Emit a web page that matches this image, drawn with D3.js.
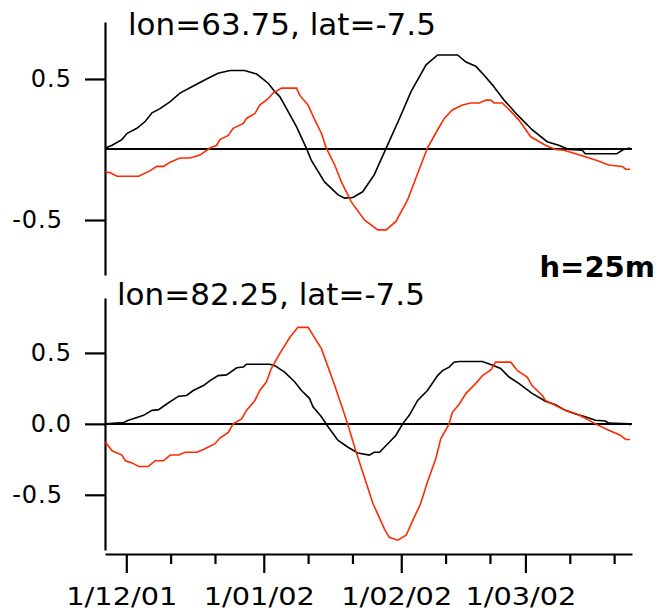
<!DOCTYPE html>
<html>
<head>
<meta charset="utf-8">
<script src="https://cdn.jsdelivr.net/npm/d3@7"></script>
<style>
  body { margin: 0; background: #fff; }
  text { font-family: "DejaVu Sans", sans-serif; fill: #000; }
</style>
</head>
<body>
<div id="chart"></div>
<script>
// days are counted from 1 Dec 2001
const topBlackDays = [-4.7,-3.2,-1.0,0.2,2.4,4.3,5.8,7.6,9.9,12.1,14.8,18.1,20.7,23.4,26.7,29.4,32.0,33.5,34.6,35.7,38.4,40.6,41.7,44.7,47.7,49.2,51.1,53.3,55.9,58.6,61.6,64.2,67.6,70.2,74.7,76.6,78.8,80.3,82.5,85.2,88.2,91.5,94.9,97.5,99.8,102.8,103.5,110.6,112.1,113.6];
const topBlackVals = [0.01,0.03,0.07,0.115,0.15,0.2,0.26,0.29,0.34,0.40,0.445,0.50,0.54,0.56,0.56,0.535,0.47,0.41,0.375,0.315,0.16,0.01,-0.075,-0.23,-0.32,-0.345,-0.34,-0.30,-0.18,0.01,0.22,0.41,0.60,0.67,0.67,0.62,0.59,0.54,0.46,0.35,0.245,0.14,0.055,0.03,0.0,-0.005,-0.03,-0.03,0.0,0.01];

const topRedDays = [-4.7,-3.6,-2.1,2.8,5.4,6.9,8.4,9.9,12.1,14.4,16.6,18.9,20.4,21.1,23.0,24.1,26.4,27.1,29.0,30.1,32.0,33.1,35.0,38.4,39.1,41.0,42.5,44.0,45.1,47.0,48.5,50.7,53.7,56.7,58.6,60.8,63.4,65.7,67.9,70.2,71.7,73.5,75.8,77.7,79.6,81.1,82.2,82.9,84.8,86.7,88.5,91.2,94.5,96.8,98.7,102.8,105.8,108.8,111.8,112.6,113.6];
const topRedVals = [-0.16,-0.165,-0.19,-0.19,-0.15,-0.12,-0.12,-0.09,-0.06,-0.06,-0.04,0.01,0.03,0.07,0.10,0.15,0.185,0.22,0.255,0.315,0.36,0.40,0.435,0.435,0.385,0.315,0.21,0.115,0.01,-0.11,-0.23,-0.37,-0.50,-0.57,-0.57,-0.51,-0.36,-0.17,0.01,0.14,0.22,0.28,0.315,0.33,0.33,0.35,0.35,0.33,0.33,0.27,0.21,0.09,0.03,0.0,-0.005,-0.045,-0.075,-0.11,-0.12,-0.14,-0.14];

const botBlackDays = [-4.7,-0.6,0.5,2.4,3.9,5.8,7.3,9.1,11.8,13.6,15.1,17.4,18.9,20.7,22.6,24.9,26.4,27.1,32.4,33.5,35.7,38.0,39.5,41.3,42.1,44.0,45.5,47.7,50.0,52.2,54.8,55.9,57.1,59.3,60.8,62.3,63.8,65.7,67.9,70.2,71.3,72.8,73.9,75.1,80.3,82.5,84.4,86.3,88.5,91.5,94.5,96.8,99.0,101.3,103.5,105.8,108.0,108.8,113.3,113.6];
const botBlackVals = [0.0,0.01,0.025,0.045,0.06,0.095,0.10,0.14,0.195,0.20,0.235,0.27,0.305,0.34,0.345,0.395,0.40,0.42,0.42,0.41,0.365,0.295,0.235,0.18,0.12,0.05,-0.02,-0.115,-0.165,-0.205,-0.22,-0.20,-0.20,-0.13,-0.08,0.0,0.06,0.165,0.235,0.34,0.375,0.40,0.435,0.44,0.44,0.415,0.39,0.33,0.285,0.215,0.16,0.135,0.095,0.07,0.05,0.025,0.02,0.005,0.0,-0.01];

const botRedDays = [-4.7,-3.2,-1.0,-0.2,1.3,2.8,5.0,6.5,8.4,9.9,11.8,13.3,15.9,17.4,20.0,21.1,23.0,24.1,26.0,27.1,29.0,30.1,31.6,32.7,34.6,35.3,36.9,38.7,41.0,44.0,45.1,47.0,48.8,50.0,51.5,53.3,55.6,58.2,59.3,61.2,63.1,64.6,66.4,67.9,69.8,70.9,72.8,73.5,75.1,76.6,78.8,80.3,82.2,83.3,86.7,88.2,90.4,91.5,93.8,94.5,96.8,99.0,101.6,103.5,105.8,108.8,111.4,112.6,113.6];
const botRedVals = [-0.13,-0.19,-0.22,-0.26,-0.275,-0.30,-0.30,-0.26,-0.26,-0.22,-0.22,-0.20,-0.20,-0.18,-0.14,-0.10,-0.06,0.0,0.035,0.095,0.165,0.235,0.295,0.39,0.495,0.53,0.61,0.68,0.68,0.53,0.435,0.27,0.105,-0.01,-0.165,-0.34,-0.56,-0.74,-0.80,-0.82,-0.785,-0.68,-0.56,-0.41,-0.245,-0.105,0.0,0.08,0.14,0.215,0.285,0.34,0.38,0.435,0.435,0.375,0.33,0.27,0.20,0.165,0.13,0.095,0.07,0.04,0.0,-0.045,-0.08,-0.11,-0.11];

const panelTitles = ["lon=63.75, lat=-7.5", "lon=82.25, lat=-7.5"];
const topYTicks = [0.5, -0.5];
const botYTicks = [0.5, 0.0, -0.5];
const monthTicks = ["2001-12-01", "2002-01-01", "2002-02-01", "2002-03-01"];
const minorTicks = ["2001-12-11", "2001-12-21", "2002-01-11", "2002-01-21", "2002-02-11", "2002-02-21", "2002-03-11", "2002-03-21"];
const depthLabel = "h=25m";

const width = 656, height = 614;
const dayMs = 864e5;
const t0 = Date.UTC(2001, 11, 1);
const toDate = d => new Date(t0 + d * dayMs);

const svg = d3.select("#chart")
    .append("svg")
    .attr("width", width)
    .attr("height", height);

const x = d3.scaleUtc()
    .domain([toDate(-4.8), toDate(114.03)])
    .range([105, 632]);

const panels = [
    { title: panelTitles[0], tx: 128, ty: 35, range: [275, 22], domain: [-0.89, 0.904], ticks: topYTicks,
      black: topBlackDays.map((d, i) => [d, topBlackVals[i]]), red: topRedDays.map((d, i) => [d, topRedVals[i]]) },
    { title: panelTitles[1], tx: 117, ty: 305, range: [550, 298], domain: [-0.889, 0.887], ticks: botYTicks,
      black: botBlackDays.map((d, i) => [d, botBlackVals[i]]), red: botRedDays.map((d, i) => [d, botRedVals[i]]) }
];

panels.forEach(p => {
    const y = d3.scaleLinear().domain(p.domain).range(p.range);

    const yAxis = svg.append("g")
        .attr("transform", "translate(105,0)")
        .call(d3.axisLeft(y).tickValues(p.ticks).tickSize(20).tickSizeOuter(0).tickPadding(13)
            .tickFormat(d => d.toFixed(1)));
    yAxis.select(".domain").attr("stroke-width", 2.2);
    yAxis.selectAll(".tick line").attr("stroke-width", 2.2);
    yAxis.selectAll(".tick text")
        .style("font-size", "24px")
        .attr("letter-spacing", "1px")
        .attr("dx", d => d < 0 ? -9 : 0);

    // zero line
    const y0 = Math.round(y(0));
    svg.append("line")
        .attr("x1", x.range()[0]).attr("x2", x.range()[1])
        .attr("y1", y0).attr("y2", y0)
        .attr("stroke", "#000").attr("stroke-width", 2.2);

    const line = d3.line()
        .x(d => x(toDate(d[0])))
        .y(d => y(d[1]));

    svg.append("path")
        .datum(p.black)
        .attr("d", line)
        .attr("fill", "none")
        .attr("stroke", "#000")
        .attr("stroke-width", 1.6);

    svg.append("path")
        .datum(p.red)
        .attr("d", line)
        .attr("fill", "none")
        .attr("stroke", "#ff2a00")
        .attr("stroke-width", 1.6);

    svg.append("text")
        .attr("x", p.tx)
        .attr("y", p.ty)
        .style("font-size", "31px")
        .text(p.title);
});

// date axis under the lower panel
const parse = d3.utcParse("%Y-%m-%d");
const xAxis = svg.append("g")
    .attr("transform", "translate(0,554)")
    .call(d3.axisBottom(x).tickValues(monthTicks.map(parse)).tickSize(19).tickSizeOuter(0).tickPadding(15)
        .tickFormat(d3.utcFormat("%-d/%m/%y")));
xAxis.select(".domain").attr("stroke-width", 2.2);
xAxis.selectAll(".tick line").attr("stroke-width", 2.2);
xAxis.selectAll(".tick text")
    .style("font-size", "24px")
    .attr("transform", "translate(-5,0) scale(1.2,1)");

const minorAxis = svg.append("g")
    .attr("transform", "translate(0,554)")
    .call(d3.axisBottom(x).tickValues(minorTicks.map(parse)).tickSize(10).tickFormat(""));
minorAxis.select(".domain").remove();
minorAxis.selectAll(".tick line").attr("stroke-width", 2.2);

svg.append("text")
    .attr("x", 655)
    .attr("y", 277)
    .attr("text-anchor", "end")
    .style("font-size", "29px")
    .style("font-weight", "bold")
    .text(depthLabel);
</script>
</body>
</html>
